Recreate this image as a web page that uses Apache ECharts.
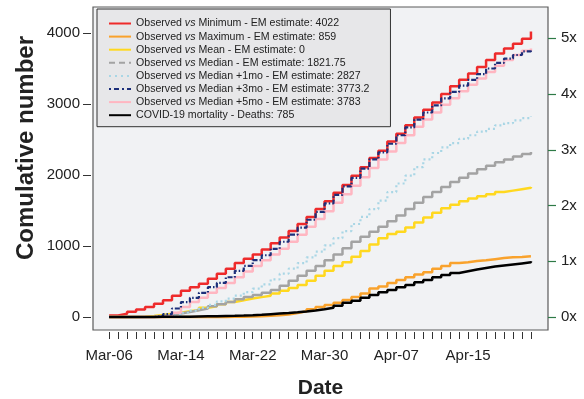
<!DOCTYPE html>
<html><head><meta charset="utf-8">
<script src="https://cdn.jsdelivr.net/npm/echarts@6/dist/echarts.min.js"></script>
<style>html,body{margin:0;padding:0;background:#fff}#c{width:584px;height:399px}</style>
</head><body><div id="c"></div>
<script>
const dates = ['Mar-06','Mar-07','Mar-08','Mar-09','Mar-10','Mar-11','Mar-12','Mar-13','Mar-14','Mar-15','Mar-16','Mar-17','Mar-18','Mar-19','Mar-20','Mar-21','Mar-22','Mar-23','Mar-24','Mar-25','Mar-26','Mar-27','Mar-28','Mar-29','Mar-30','Mar-31','Apr-01','Apr-02','Apr-03','Apr-04','Apr-05','Apr-06','Apr-07','Apr-08','Apr-09','Apr-10','Apr-11','Apr-12','Apr-13','Apr-14','Apr-15','Apr-16','Apr-17','Apr-18','Apr-19','Apr-20','Apr-21','Apr-22'];
const xTickLabels = ['Mar-06','Mar-14','Mar-22','Mar-30','Apr-07','Apr-15'];
const yTickValues = [0,1000,2000,3000,4000];
const deathsTotal = 785;
const rightTickLabels = ['0x','1x','2x','3x','4x','5x'];

const seriesNames = [
 'Observed vs Minimum - EM estimate: 4022',
 'Observed vs Maximum - EM estimate: 859',
 'Observed vs Mean - EM estimate: 0',
 'Observed vs Median - EM estimate: 1821.75',
 'Observed vs Median +1mo - EM estimate: 2827',
 'Observed vs Median +3mo - EM estimate: 3773.2',
 'Observed vs Median +5mo - EM estimate: 3783',
 'COVID-19 mortality - Deaths: 785'
];
const minimum = [20,45,75,105,140,185,235,300,370,420,470,540,610,680,760,820,880,950,1040,1120,1210,1310,1410,1520,1630,1750,1860,1990,2110,2240,2340,2470,2580,2700,2810,2920,3020,3140,3250,3340,3430,3520,3620,3710,3780,3850,3920,4022];
const maximum = [0,0,0,0,0,0,0,0,0,0,0,0,0,2,5,8,12,18,25,35,55,80,110,140,170,200,240,280,330,400,430,480,520,560,600,630,680,720,760,770,790,800,815,830,840,845,855,859];
const mean = [0,0,0,5,15,30,45,60,80,100,130,150,180,210,235,260,280,300,330,370,410,450,510,580,650,720,770,850,930,1020,1110,1170,1200,1260,1330,1400,1470,1530,1580,1630,1670,1700,1730,1760,1780,1800,1820,1831];
const median = [0,0,0,0,5,15,30,50,70,95,120,150,180,210,250,280,310,340,380,440,510,580,650,720,800,880,970,1060,1130,1200,1270,1350,1430,1520,1610,1690,1760,1830,1900,1960,2020,2080,2130,2180,2220,2260,2295,2324];
const median1mo = [0,0,0,0,0,0,5,30,60,90,130,170,220,260,300,350,400,460,530,610,680,760,840,920,1010,1110,1210,1310,1410,1520,1640,1760,1880,1990,2110,2220,2310,2390,2450,2510,2560,2610,2650,2700,2730,2770,2800,2827];
const median3mo = [0,0,0,0,0,10,40,120,210,270,340,420,480,560,650,720,800,870,960,1060,1160,1260,1370,1480,1600,1720,1840,1960,2090,2220,2320,2440,2560,2670,2780,2880,2980,3080,3170,3260,3340,3420,3500,3580,3640,3690,3740,3773];
const median5mo = [0,0,0,0,0,0,10,60,140,210,270,340,410,480,560,640,720,800,880,960,1060,1160,1270,1380,1490,1610,1730,1850,1970,2100,2220,2330,2450,2560,2680,2780,2880,2990,3080,3180,3270,3360,3450,3540,3620,3690,3750,3783];
const deaths = [0,0,0,1,1,2,3,4,5,7,9,11,14,17,21,26,32,40,48,56,66,78,92,108,130,160,200,230,270,310,350,380,420,450,490,520,560,590,620,645,670,690,710,725,740,755,770,785];

const colors = ['#EE2B2B','#F9A22C','#FFD81F','#A3A3A3','#A9D6E5','#1D2F7A','#FFB6C1','#000000'];
const values = [minimum, maximum, mean, median, median1mo, median3mo, median5mo, deaths];
const styles = [
 {type:'solid', width:2.5},
 {type:'solid', width:2.5},
 {type:'solid', width:2.5},
 {type:'solid', width:2.5},
 {type:[2,3], width:2.2},
 {type:[5,2,1.5,2], width:2.2},
 {type:'solid', width:2.5},
 {type:'solid', width:2.5}
];
const legendStyles = [null,null,null,{type:[6,4]},{type:[2,4]},{type:[2,3,5,3]},null,null];
const drawOrder = [0,1,2,3,4,6,5,7];
const FONT = 'Liberation Sans, Arial, sans-serif';

const series = drawOrder.map(i => ({
  name: seriesNames[i], type:'line', step:'end', symbol:'none', showSymbol:false,
  yAxisIndex:0,
  data: values[i].map((v,d)=>[d,v]),
  lineStyle: Object.assign({color:colors[i]}, styles[i]),
  itemStyle:{color:colors[i]},
  emphasis:{disabled:true}, silent:true
}));

const chart = echarts.init(document.getElementById('c'), null, {renderer:'canvas'});
chart.setOption({
  animation:false,
  backgroundColor:'#ffffff',
  textStyle:{fontFamily:FONT},
  grid:{left:93, right:36, top:7, bottom:69, show:true, outerBoundsMode:'none', containLabel:false,
        backgroundColor:'#F1F2F4', borderColor:'#5a5a5a', borderWidth:1.2},
  legend:{
    orient:'vertical', left:97, top:9,
    padding:[9,21,6,11], itemWidth:22, itemHeight:11, itemGap:2.1,
    backgroundColor:'#E7E7E9', borderColor:'#333', borderWidth:1,
    selectedMode:false,
    itemStyle:{opacity:0},
    textStyle:{fontSize:10.6, color:'#222', fontFamily:FONT, rich:{i:{fontStyle:'italic', fontSize:10.6, color:'#222', fontFamily:FONT}}},
    formatter: n => n.replace(' vs ', ' {i|vs} '),
    data: seriesNames.map((n,i)=> legendStyles[i] ? {name:n, lineStyle:legendStyles[i]} : {name:n})
  },
  graphic:[{
    type:'text', x:26, y:148, rotation:Math.PI/2,
    style:{text:'Comulative number', font:'bold 24px ' + FONT, fill:'#222', textAlign:'center', textVerticalAlign:'middle'}
  }],
  xAxis:{
    type:'value', min:-1.8, max:48.9, offset:2,
    axisLine:{show:false, onZero:false},
    axisTick:{show:true, length:7, lineStyle:{color:'#333', width:1}, customValues: dates.map((d,i)=>i)},
    axisLabel:{fontSize:15, color:'#222', margin:16, customValues: xTickLabels.map(l=>dates.indexOf(l)), formatter: v => dates[Math.round(v)] || ''},
    splitLine:{show:false},
    name:'Date', nameLocation:'middle', nameGap:46,
    nameTextStyle:{fontSize:21, fontWeight:'bold', color:'#222'}
  },
  yAxis:[{
    type:'value', min:-183, max:4366, offset:2,
    axisLine:{show:false, onZero:false},
    axisTick:{show:true, length:8, lineStyle:{color:'#333'}, customValues: yTickValues},
    axisLabel:{fontSize:15, color:'#222', margin:11, customValues: yTickValues, formatter: v => String(v)},
    splitLine:{show:false}
  },{
    type:'value', position:'right', min:-183, max:4366,
    axisLine:{show:false, onZero:false},
    axisTick:{show:true, length:8, lineStyle:{color:'#2E7A46', width:1.2}, customValues: rightTickLabels.map((l,i)=>i*deathsTotal)},
    axisLabel:{fontSize:15, color:'#222', margin:13, customValues: rightTickLabels.map((l,i)=>i*deathsTotal), formatter: v => rightTickLabels[Math.round(v/deathsTotal)] || ''},
    splitLine:{show:false}
  }],
  series: series
});
</script>
</body></html>
